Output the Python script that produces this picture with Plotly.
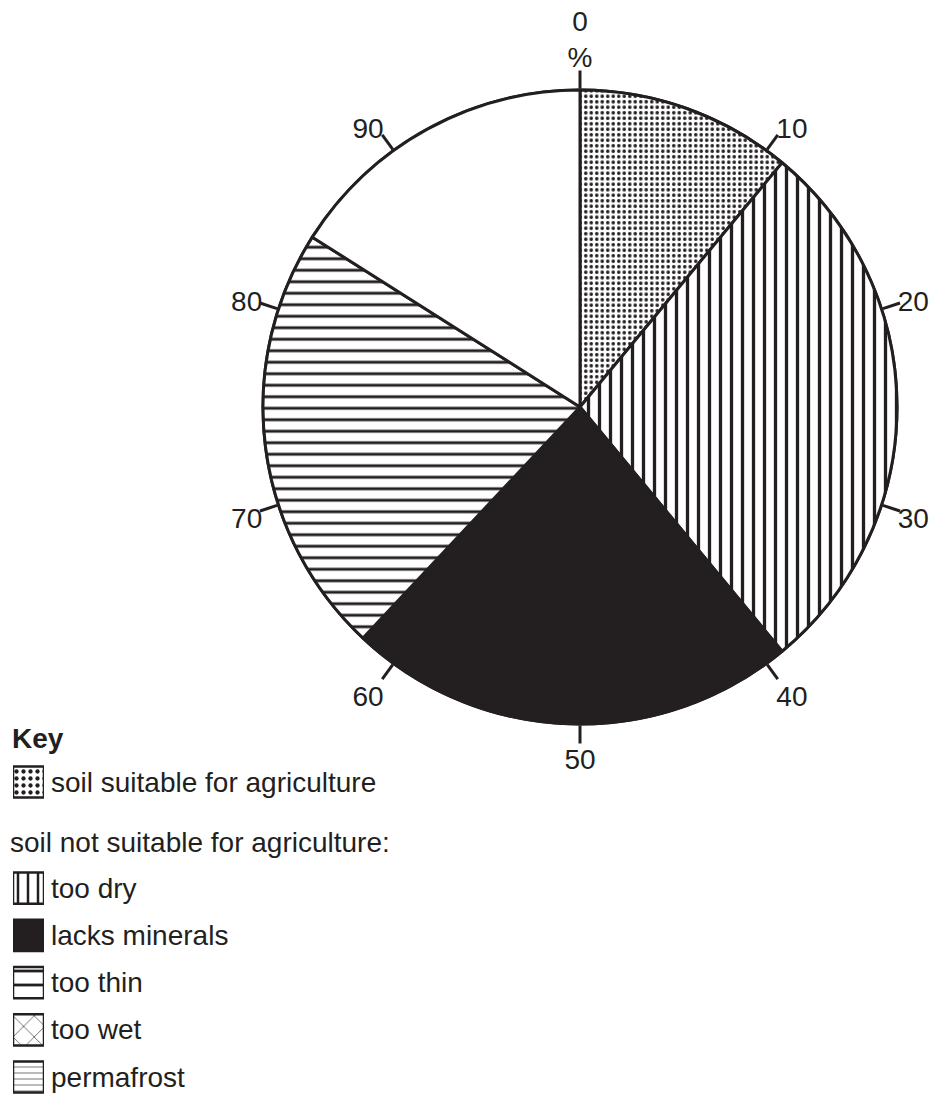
import plotly.graph_objects as go

# ---- data ----
pie_labels = ["soil suitable for agriculture", "too dry", "lacks minerals", "too thin", "unshaded"]
pie_values = [11, 28, 23, 22, 16]

tick_percents = [0, 10, 20, 30, 40, 50, 60, 70, 80, 90]
tick_labels = ["0<br>%", "10", "20", "30", "40", "50", "60", "70", "80", "90"]

key_labels = ["soil suitable for agriculture", "too dry", "lacks minerals",
              "too thin", "too wet", "permafrost"]
key_values = [1, 1, 1, 1, 1, 1]

# ---- styles ----
W, H = 940, 1095
cx, cy, R = 580, 407, 317
FONT = "Liberation Sans, Arial, sans-serif"
FS = 28
INK = "#231f20"

style = {
    "soil suitable for agriculture": dict(color="white", shape=".", fg=INK, bg="white", size=5.5, sol=0.33),
    "too dry": dict(color="white", shape="|", fg=INK, bg="white", size=11, sol=0.3),
    "lacks minerals": dict(color=INK, shape="", fg=INK, bg=INK, size=8, sol=0.3),
    "too thin": dict(color="white", shape="-", fg=INK, bg="white", size=11.5, sol=0.25),
    "too wet": dict(color="white", shape="x", fg=INK, bg="white", size=15, sol=0.08),
    "permafrost": dict(color="white", shape="-", fg="#666666", bg="white", size=6, sol=0.15),
    "unshaded": dict(color="white", shape="", fg="white", bg="white", size=8, sol=0.3),
}

key_style = dict(style)
key_style["soil suitable for agriculture"] = dict(style["soil suitable for agriculture"], size=7, sol=0.3)
key_style["too dry"] = dict(style["too dry"], size=10, sol=0.25)
key_style["too thin"] = dict(style["too thin"], size=14, sol=0.2)

fig = go.Figure()

# polar subplots supply the percentage ticks (polar) and their labels (polar2)
fig.add_trace(go.Scatterpolar(r=[], theta=[], mode="lines", showlegend=False,
                              hoverinfo="skip", subplot="polar"))
fig.add_trace(go.Scatterpolar(r=[], theta=[], mode="lines", showlegend=False,
                              hoverinfo="skip", subplot="polar2"))

fig.add_trace(go.Pie(
    labels=pie_labels, values=pie_values, sort=False, direction="clockwise",
    rotation=0, textinfo="none", showlegend=False, hoverinfo="label+value",
    marker=dict(colors=[style[l]["color"] for l in pie_labels],
                line=dict(color=INK, width=3),
                pattern=dict(
                    shape=[style[l]["shape"] for l in pie_labels],
                    fgcolor=[style[l]["fg"] for l in pie_labels],
                    bgcolor=[style[l]["bg"] for l in pie_labels],
                    size=[style[l]["size"] for l in pie_labels],
                    solidity=[style[l]["sol"] for l in pie_labels],
                    fillmode="replace")),
    domain=dict(x=[(cx - R) / W, (cx + R) / W], y=[1 - (cy + R) / H, 1 - (cy - R) / H]),
))

# key swatches as bars on a hidden axis (one trace per entry)
row_px0, row_step = 782, 47.2
key_rows = [0] + [2.25 + i for i in range(len(key_labels) - 1)]
for lab, val, r in zip(key_labels, key_values, key_rows):
    s = key_style[lab]
    fig.add_trace(go.Bar(
        x=[val], y=[r], orientation="h", base=0, width=0.66, name=lab,
        marker=dict(color=s["color"], line=dict(color=INK, width=2.5),
                    pattern=dict(shape=s["shape"], fgcolor=s["fg"], bgcolor=s["bg"],
                                 size=s["size"], solidity=s["sol"], fillmode="replace")),
        showlegend=False, hoverinfo="skip", xaxis="x", yaxis="y",
    ))

key_top, key_bot = 740, 1095
annotations = []
for lab, r in zip(key_labels, key_rows):
    annotations.append(dict(x=49 / W, xref="paper", y=r, yref="y", text=lab,
                            xanchor="left", yanchor="middle", showarrow=False,
                            font=dict(size=FS, color=INK, family=FONT)))
annotations.append(dict(x=10 / W, xref="paper", y=1 - 738 / H, yref="paper",
                        text="<b>Key</b>", xanchor="left", yanchor="middle",
                        showarrow=False, font=dict(size=FS, color=INK, family=FONT)))
annotations.append(dict(x=8 / W, xref="paper", y=1 - 842 / H, yref="paper",
                        text="soil not suitable for agriculture:", xanchor="left",
                        yanchor="middle", showarrow=False,
                        font=dict(size=FS, color=INK, family=FONT)))

pie_domain = dict(x=[(cx - R) / W, (cx + R) / W], y=[1 - (cy + R) / H, 1 - (cy - R) / H])
tickvals = [p * 3.6 for p in tick_percents]

fig.update_layout(
    width=W, height=H, margin=dict(l=0, r=0, t=0, b=0),
    paper_bgcolor="white", plot_bgcolor="rgba(0,0,0,0)",
    font=dict(family=FONT, color=INK),
    showlegend=False,
    polar=dict(
        domain=pie_domain, bgcolor="rgba(0,0,0,0)",
        radialaxis=dict(visible=False, range=[0, 1]),
        angularaxis=dict(rotation=90, direction="clockwise", tickmode="array",
                         tickvals=tickvals, showticklabels=False,
                         ticks="outside", ticklen=18, tickwidth=3, tickcolor=INK,
                         showgrid=False, showline=True, linecolor=INK, linewidth=3),
    ),
    polar2=dict(
        domain=pie_domain, bgcolor="rgba(0,0,0,0)",
        radialaxis=dict(visible=False, range=[0, 1]),
        angularaxis=dict(rotation=90, direction="clockwise", tickmode="array",
                         tickvals=tickvals, ticktext=tick_labels,
                         ticks="outside", ticklen=11, tickwidth=1,
                         tickcolor="rgba(0,0,0,0)",
                         showgrid=False, showline=False,
                         tickfont=dict(size=FS, color=INK, family=FONT)),
    ),
    xaxis=dict(domain=[13 / W, 44 / W], range=[0, 1], visible=False, fixedrange=True),
    yaxis=dict(domain=[0, 1 - key_top / H],
               range=[(key_bot - row_px0) / row_step, (key_top - row_px0) / row_step],
               visible=False, fixedrange=True),
    annotations=annotations,
)

fig.write_html("out.html", config={"displayModeBar": False},
               post_script="document.body.style.margin='0px';")
